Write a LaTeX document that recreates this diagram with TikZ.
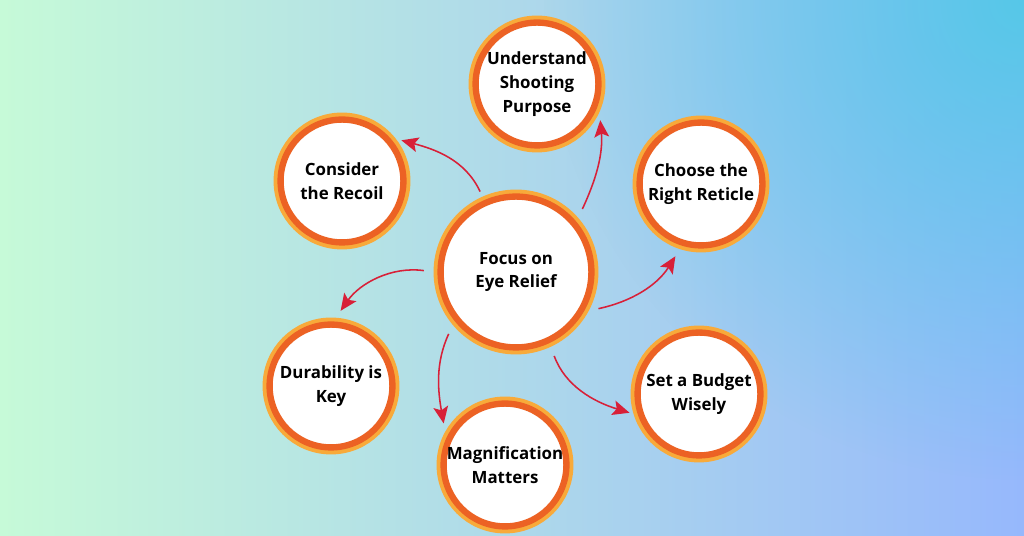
\documentclass[tikz,border=0pt]{standalone}
\usepackage{fontspec}
\setmainfont{Open Sans}
\usepackage{tikz}
\usetikzlibrary{arrows.meta,fadings}
\definecolor{bgmint}{RGB}{198,250,216}
\definecolor{bgmid}{RGB}{172,222,232}
\definecolor{bgcyan}{RGB}{86,200,232}
\definecolor{bgperi}{RGB}{150,184,252}
\definecolor{ringlight}{RGB}{248,170,58}
\definecolor{ringdark}{RGB}{236,98,36}
\definecolor{arrowred}{RGB}{216,32,56}
\tikzfading[name=cornerfade, inner color=transparent!0, outer color=transparent!100]
\tikzset{
  tipbubble/.style={circle, fill=white, draw=ringdark, line width=4.5pt,
    preaction={draw=ringlight, line width=10pt}, outer sep=5pt,
    minimum size=3.07cm, inner sep=0pt, align=center,
    font=\fontsize{12}{17}\selectfont\bfseries},
  hubbubble/.style={tipbubble, minimum size=3.77cm},
  tiparrow/.style={-{Stealth[length=12pt, width=10.5pt, inset=2.5pt]}, arrowred,
    line width=1.1pt, shorten <=7pt, shorten >=6pt},
}

\begin{document}
\begin{tikzpicture}[x=0.025cm, y=0.025cm]
  % background
  \useasboundingbox (0,0) rectangle (1024,536);
  \shade[left color=bgmint, middle color=bgmid, right color=bgperi]
    (0,0) rectangle (1024,536);
  \begin{scope}
    \clip (0,0) rectangle (1024,536);
    \fill[bgcyan, path fading=cornerfade] (1024,536) circle (480);
  \end{scope}
  % bubbles
  \node[hubbubble] (focus) at (516,264) {Focus on\\Eye Relief};
  \node[tipbubble] (purpose) at (537,452) {Understand\\Shooting\\Purpose};
  \node[tipbubble] (recoil) at (342,355) {Consider\\the Recoil};
  \node[tipbubble] (reticle) at (701,352) {Choose the\\Right Reticle};
  \node[tipbubble] (durable) at (331,150) {Durability is\\Key};
  \node[tipbubble] (magnify) at (505,71) {Magnification\\Matters};
  \node[tipbubble] (budget) at (699,142) {Set a Budget\\Wisely};
  % arrows
  \draw[tiparrow] (focus.41) to[out=65, in=-85] (purpose.-24);
  \draw[tiparrow, shorten <=4pt, shorten >=4pt] (focus.114) to[out=115, in=-15] (recoil.38);
  \draw[tiparrow] (focus.180) to[out=172, in=55] (durable.86);
  \draw[tiparrow] (focus.220) to[out=245, in=100] (magnify.151);
  \draw[tiparrow, shorten >=3pt] (focus.-65) to[out=-70, in=163] (budget.197);
  \draw[tiparrow] (focus.-28) to[out=12, in=-122] (reticle.252);
\end{tikzpicture}
\end{document}
